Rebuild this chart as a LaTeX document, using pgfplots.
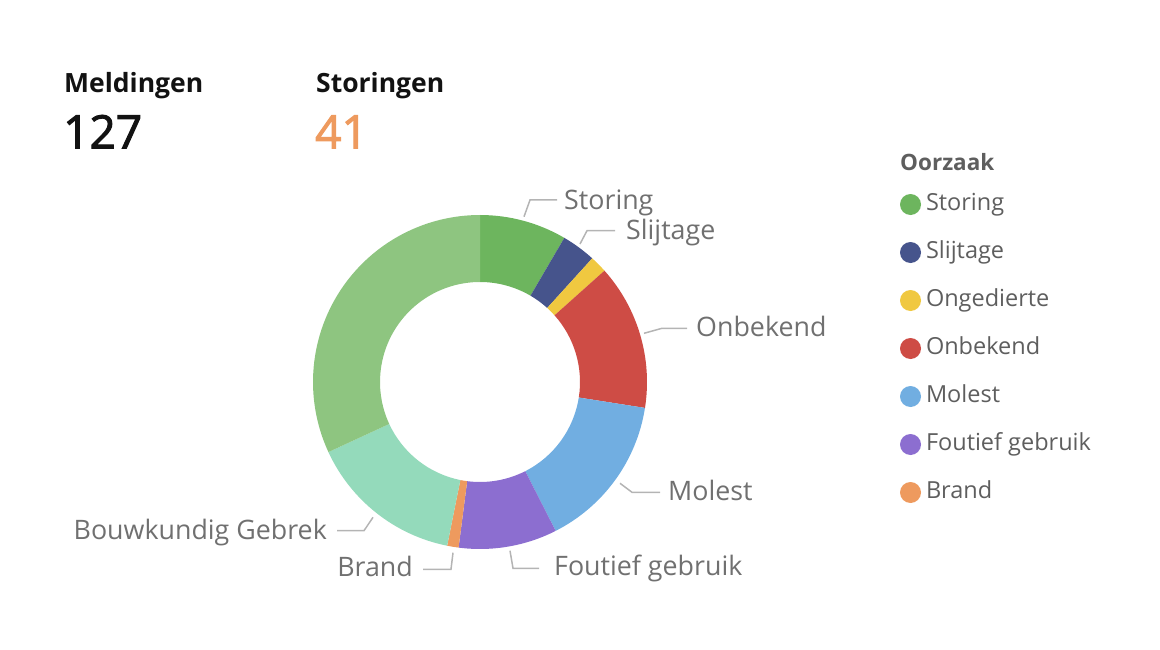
\documentclass[border=0pt]{standalone}
\usepackage{pgfplots}
\pgfplotsset{compat=1.18}
\usepackage{pgfplotstable}
\usepackage{fontspec}
\setmainfont{Open Sans}
\newfontfamily\numface{Open Sans}[FakeBold=2.2]

\definecolor{cStoring}{HTML}{6DB55E}
\definecolor{cSlijtage}{HTML}{46548C}
\definecolor{cOngedierte}{HTML}{F0C840}
\definecolor{cOnbekend}{HTML}{CE4C45}
\definecolor{cMolest}{HTML}{71AEE1}
\definecolor{cFoutief}{HTML}{8C6ED0}
\definecolor{cBrand}{HTML}{EE9A5E}
\definecolor{cBouw}{HTML}{94DABB}
\definecolor{cRest}{HTML}{8EC580}
\definecolor{labelgray}{HTML}{707070}
\definecolor{legendgray}{HTML}{5E5E5E}
\definecolor{leadergray}{HTML}{B4B4B4}
\definecolor{titleorange}{HTML}{EE9A5E}

\pgfplotstableread{
name value colour
Storing 10.7 cStoring
Slijtage 4.2 cSlijtage
Ongedierte 2.1 cOngedierte
Onbekend 17.9 cOnbekend
Molest 19.1 cMolest
Foutief 12.1 cFoutief
Brand 1.4 cBrand
Bouwkundig 19.0 cBouw
Rest 40.5 cRest
}\slices

\newcommand\labelfont{\fontsize{26.8}{31}\selectfont}
\newcommand\legendfont{\fontsize{23.5}{28}\selectfont}

\begin{document}
\begin{tikzpicture}
\pgfplotstablegetrowsof{\slices}
\pgfmathtruncatemacro\lastrow{\pgfplotsretval-1}
\begin{axis}[
  x=1pt, y=1pt,
  xmin=0, xmax=1160, ymin=0, ymax=649,
  hide axis, clip=false,
  legend image code/.code={\fill[#1, draw=none] (10.5pt,0pt) circle[radius=10.5pt];},
  legend style={at={(axis cs:900,456)}, anchor=north west, draw=none, fill=none,
    inner sep=0pt, outer sep=0pt, row sep=25pt, column sep=5pt,
    font=\legendfont, text=legendgray,
    nodes={inner sep=0pt, text height=17pt, text depth=6pt},
    cells={anchor=west}},
]
\path (axis cs:0,0) rectangle (axis cs:1160,649);
\def\cum{0}
\pgfplotsforeachungrouped \i in {0,...,\lastrow}{%
  \pgfplotstablegetelem{\i}{value}\of\slices
  \let\val\pgfplotsretval
  \pgfplotstablegetelem{\i}{colour}\of\slices
  \let\col\pgfplotsretval
  \pgfmathsetmacro\aS{90-\cum/127*360}%
  \pgfmathsetmacro\cum{\cum+\val}%
  \pgfmathsetmacro\aE{90-\cum/127*360}%
  \edef\temp{\noexpand\fill[\col] (axis cs:480,267) ++(\aS:100pt) -- ++(\aS:67pt)
    arc[start angle=\aS, end angle=\aE, radius=167pt] -- ++(\aE:-67pt)
    arc[start angle=\aE, end angle=\aS, radius=100pt] -- cycle;}%
  \temp
}

\addlegendimage{fill=cStoring}\addlegendentry{Storing}
\addlegendimage{fill=cSlijtage}\addlegendentry{Slijtage}
\addlegendimage{fill=cOngedierte}\addlegendentry{Ongedierte}
\addlegendimage{fill=cOnbekend}\addlegendentry{Onbekend}
\addlegendimage{fill=cMolest}\addlegendentry{Molest}
\addlegendimage{fill=cFoutief}\addlegendentry{Foutief gebruik}
\addlegendimage{fill=cBrand}\addlegendentry{Brand}

% leader lines
\begin{scope}[leadergray, line width=1.5pt]
\draw (axis cs:524,432.3) -- (axis cs:530,449) -- (axis cs:557,449);
\draw (axis cs:580,405) -- (axis cs:587,418.3) -- (axis cs:615,418.3);
\draw (axis cs:644,315.7) -- (axis cs:662,320.7) -- (axis cs:687,320.7);
\draw (axis cs:620,165.7) -- (axis cs:632,156.7) -- (axis cs:660,156.7);
\draw (axis cs:510,98.3) -- (axis cs:513,80.7) -- (axis cs:539,80.7);
\draw (axis cs:453,96.3) -- (axis cs:451,79.7) -- (axis cs:423,79.7);
\draw (axis cs:373,131.7) -- (axis cs:364,118.3) -- (axis cs:337,118.3);
\end{scope}

% slice labels
\begin{scope}[every node/.style={inner sep=0pt, font=\labelfont, text=labelgray}]
\node[anchor=base west] at (axis cs:564,439.7) {Storing};
\node[anchor=base west] at (axis cs:626,409) {Slijtage};
\node[anchor=base west] at (axis cs:696,312) {Onbekend};
\node[anchor=base west] at (axis cs:668,149) {Molest};
\node[anchor=base west] at (axis cs:554,74) {Foutief gebruik};
\node[anchor=base east] at (axis cs:413,72.5) {Brand};
\node[anchor=base east] at (axis cs:327,109.5) {Bouwkundig Gebrek};
\end{scope}

% headline figures
\node[anchor=base west, inner sep=0pt, font=\fontsize{26.5}{30}\selectfont\bfseries, text=black!93] at (axis cs:64,556) {Meldingen};
\node[anchor=base west, inner sep=0pt, font=\numface\fontsize{46}{52}\selectfont, text=black!93] at (axis cs:63,500.7) {127};
\node[anchor=base west, inner sep=0pt, font=\fontsize{26.5}{30}\selectfont\bfseries, text=black!93] at (axis cs:316,556) {Storingen};
\node[anchor=base west, inner sep=0pt, font=\numface\fontsize{46}{52}\selectfont, text=titleorange] at (axis cs:315,500.7) {41};

% legend title
\node[anchor=base west, inner sep=0pt, font=\fontsize{22.5}{27}\selectfont\bfseries, text=legendgray] at (axis cs:900,478.3) {Oorzaak};
\end{axis}
\end{tikzpicture}
\end{document}
